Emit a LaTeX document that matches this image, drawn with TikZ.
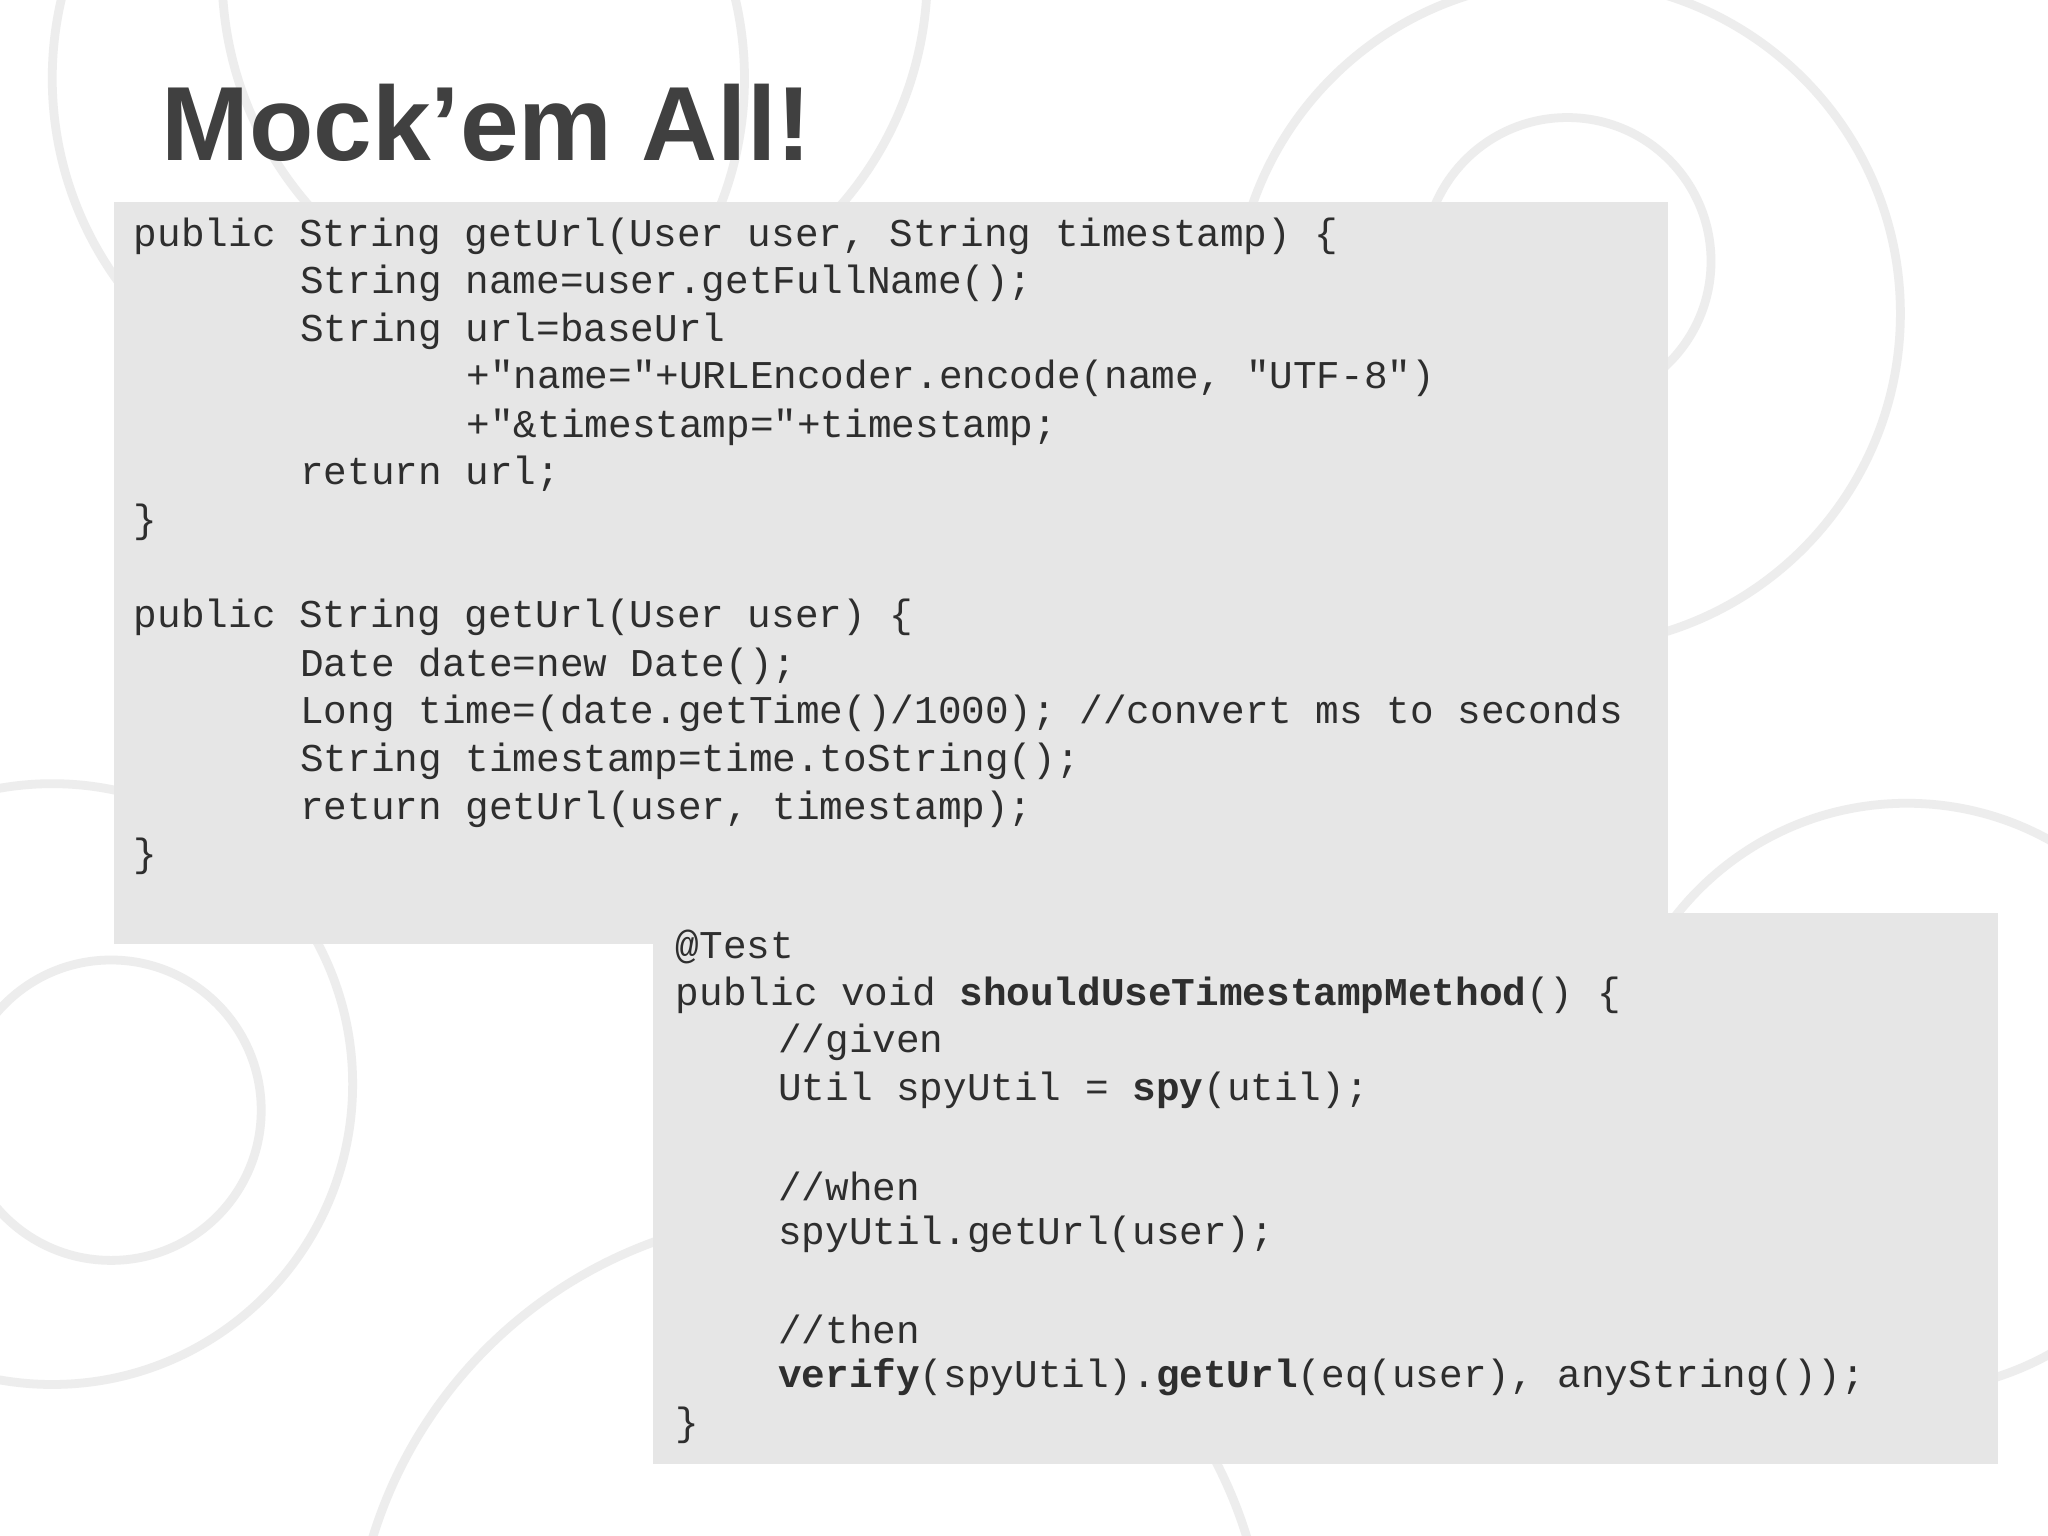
\documentclass[tikz,border=0pt]{standalone}
\usepackage{fontspec}
\setmainfont{Liberation Sans}
\setmonofont{Liberation Mono}
\definecolor{boxc}{HTML}{E6E6E6}
\definecolor{codec}{HTML}{2E2E2E}
\definecolor{titc}{HTML}{404040}
\begin{document}
\begin{tikzpicture}[x=0.01306cm,y=-0.01306cm,
  cl/.style={anchor=west,inner sep=0,text=codec,font=\ttfamily\fontsize{11.2}{13}\selectfont},
  bg/.style={draw=black!7,line width=2.5pt}]
\useasboundingbox (0,0) rectangle (1568,1176);
\fill[white] (0,0) rectangle (1568,1176);
\begin{scope}
\clip (0,0) rectangle (1568,1176);
\draw[bg] (305,60) circle (265);
\draw[bg] (440,-20) circle (270);
\draw[bg] (1200,240) circle (255);
\draw[bg] (1200,200) circle (110);
\draw[bg] (85,850) circle (115);
\draw[bg] (40,830) circle (230);
\draw[bg] (1460,840) circle (225);
\draw[bg] (620,1280) circle (350);
\end{scope}
\node[anchor=west,inner sep=0,text=titc,font=\bfseries\fontsize{30}{36}\selectfont] (title) at (123,94) {Mock'em All!};
\fill[boxc] (87,155) rectangle (1277,723);
\fill[boxc] (500,699) rectangle (1530,1121);
\def\cw{18.2}
\node[cl] (a1) at (102,181) {public String getUrl(User user, String timestamp) \{};
\node[cl] (a2) at (102+7*\cw,217) {String name=user.getFullName();};
\node[cl] (a3) at (102+7*\cw,254) {String url=baseUrl};
\node[cl] (a4) at (102+14*\cw,290) {+"name="+URLEncoder.encode(name, "UTF-8")};
\node[cl] (a5) at (102+14*\cw,327) {+"\&timestamp="+timestamp;};
\node[cl] (a6) at (102+7*\cw,363) {return url;};
\node[cl] (a7) at (102,400) {\}};
\node[cl] (b1) at (102,473) {public String getUrl(User user) \{};
\node[cl] (b2) at (102+7*\cw,510) {Date date=new Date();};
\node[cl] (b3) at (102+7*\cw,546) {Long time=(date.getTime()/1000); //convert ms to seconds};
\node[cl] (b4) at (102+7*\cw,583) {String timestamp=time.toString();};
\node[cl] (b5) at (102+7*\cw,620) {return getUrl(user, timestamp);};
\node[cl] (b6) at (102,656) {\}};
\node[cl] (c1) at (517,725) {@Test};
\node[cl] (c2) at (517,762) {public void \textbf{shouldUseTimestampMethod}() \{};
\node[cl] (c3) at (517+4.3*\cw,798) {//given};
\node[cl] (c4) at (517+4.3*\cw,835) {Util spyUtil = \textbf{spy}(util);};
\node[cl] (c5) at (517+4.3*\cw,908) {//when};
\node[cl] (c6) at (517+4.3*\cw,945) {spyUtil.getUrl(user);};
\node[cl] (c7) at (517+4.3*\cw,1018) {//then};
\node[cl] (c8) at (517+4.3*\cw,1054) {\textbf{verify}(spyUtil).\textbf{getUrl}(eq(user), anyString());};
\node[cl] (c9) at (517,1091) {\}};
\end{tikzpicture}
\end{document}
